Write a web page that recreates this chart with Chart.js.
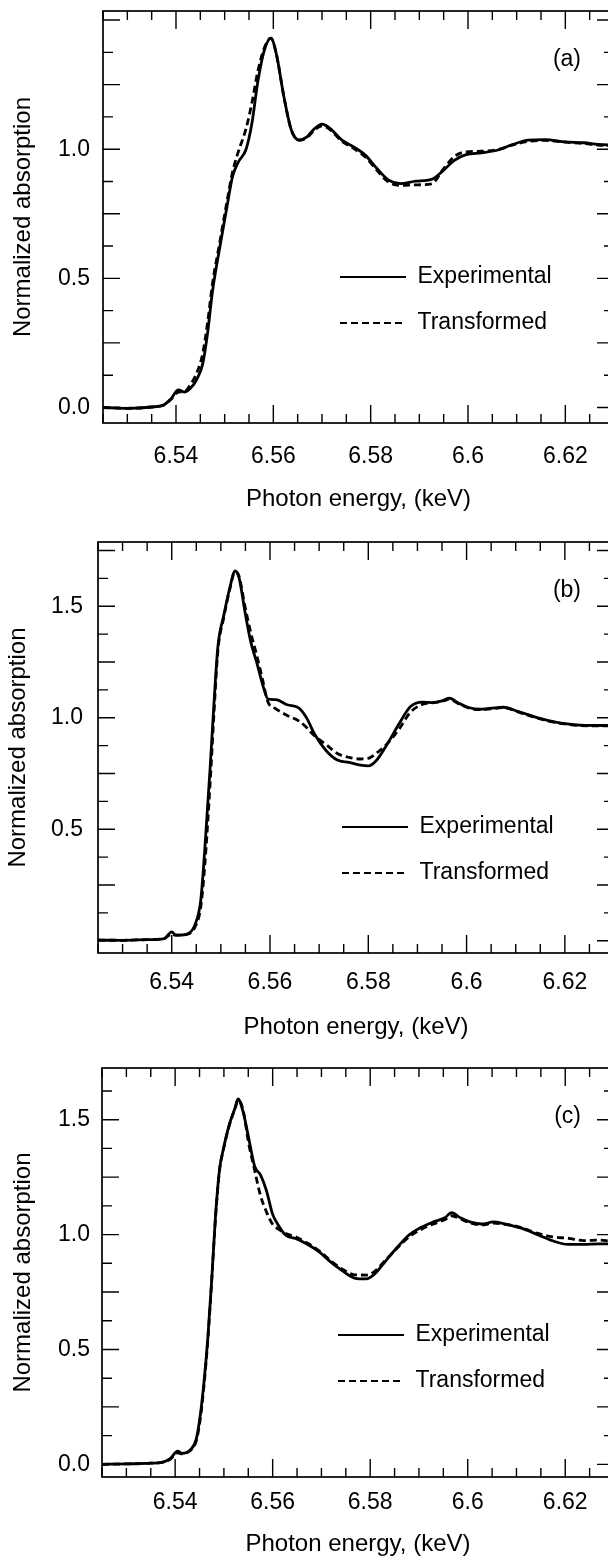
<!DOCTYPE html>
<html>
<head>
<meta charset="utf-8">
<script src="https://cdn.jsdelivr.net/npm/chart.js@4.4.1/dist/chart.umd.min.js"></script>
<style>
  html, body { margin: 0; padding: 0; background: #fff; width: 608px; height: 1564px; overflow: hidden; }
  canvas { position: absolute; left: 0; }
</style>
</head>
<body>
<canvas id="panel-a" width="614" height="514" style="top:0px"></canvas>
<canvas id="panel-b" width="614" height="522" style="top:520px"></canvas>
<canvas id="panel-c" width="614" height="515" style="top:1044px"></canvas>
<script>
// photon energy (keV) and normalized absorption
const energyA = [6.525, 6.530, 6.535, 6.5375, 6.539, 6.5405, 6.5418, 6.543, 6.5443, 6.5455, 6.5465, 6.5475, 6.549, 6.5505, 6.5516, 6.5528, 6.5544, 6.5556, 6.5568, 6.5581, 6.5595, 6.5606, 6.5622, 6.5637, 6.5653, 6.5669, 6.5685, 6.570, 6.5717, 6.5741, 6.5765, 6.5789, 6.5813, 6.5837, 6.5861, 6.5893, 6.5925, 6.595, 6.5972, 6.5996, 6.6028, 6.606, 6.6093, 6.6124, 6.6158, 6.620, 6.6238, 6.6267, 6.630];
const experimentalA = [0.000, -0.003, 0.002, 0.010, 0.035, 0.068, 0.060, 0.075, 0.110, 0.170, 0.290, 0.450, 0.620, 0.780, 0.893, 0.950, 1.000, 1.100, 1.260, 1.380, 1.430, 1.370, 1.200, 1.074, 1.035, 1.048, 1.080, 1.097, 1.080, 1.035, 1.009, 0.977, 0.925, 0.880, 0.867, 0.876, 0.883, 0.919, 0.957, 0.979, 0.986, 0.996, 1.019, 1.035, 1.037, 1.028, 1.025, 1.019, 1.015];
const transformedA = [0.000, -0.003, 0.002, 0.010, 0.032, 0.060, 0.062, 0.090, 0.135, 0.210, 0.330, 0.480, 0.640, 0.800, 0.910, 0.990, 1.080, 1.180, 1.300, 1.390, 1.430, 1.370, 1.200, 1.074, 1.035, 1.045, 1.075, 1.090, 1.075, 1.030, 1.003, 0.970, 0.918, 0.872, 0.860, 0.862, 0.866, 0.925, 0.972, 0.990, 0.992, 0.998, 1.017, 1.030, 1.034, 1.027, 1.022, 1.016, 1.012];

const energyB = [6.525, 6.530, 6.535, 6.5385, 6.540, 6.5408, 6.5431, 6.5447, 6.5459, 6.5467, 6.5478, 6.5486, 6.5494, 6.5506, 6.5518, 6.5529, 6.5537, 6.5549, 6.5561, 6.5573, 6.5584, 6.5596, 6.5612, 6.5635, 6.5659, 6.5675, 6.569, 6.5714, 6.5737, 6.5761, 6.5784, 6.580, 6.5816, 6.5839, 6.5863, 6.5886, 6.591, 6.5933, 6.5953, 6.5965, 6.5984, 6.6004, 6.6027, 6.6051, 6.6075, 6.6106, 6.6137, 6.6169, 6.620, 6.6231, 6.630];
const experimentalB = [0.003, 0.002, 0.005, 0.010, 0.040, 0.025, 0.030, 0.070, 0.180, 0.400, 0.770, 1.065, 1.320, 1.460, 1.580, 1.658, 1.628, 1.476, 1.339, 1.248, 1.157, 1.084, 1.081, 1.058, 1.043, 0.997, 0.929, 0.853, 0.810, 0.800, 0.787, 0.784, 0.807, 0.883, 0.974, 1.050, 1.070, 1.068, 1.078, 1.088, 1.065, 1.046, 1.038, 1.043, 1.047, 1.027, 1.005, 0.986, 0.974, 0.967, 0.965];
const transformedB = [0.003, 0.002, 0.005, 0.010, 0.030, 0.025, 0.028, 0.060, 0.150, 0.330, 0.700, 1.020, 1.300, 1.450, 1.575, 1.655, 1.635, 1.500, 1.380, 1.280, 1.180, 1.070, 1.040, 1.010, 0.985, 0.955, 0.920, 0.880, 0.840, 0.822, 0.815, 0.818, 0.840, 0.885, 0.950, 1.025, 1.060, 1.068, 1.075, 1.083, 1.062, 1.044, 1.036, 1.040, 1.045, 1.025, 1.003, 0.984, 0.972, 0.965, 0.963];

const energyC = [6.525, 6.530, 6.535, 6.5375, 6.539, 6.5405, 6.5414, 6.5431, 6.5443, 6.5451, 6.5459, 6.5467, 6.5475, 6.5483, 6.5491, 6.5499, 6.5511, 6.5523, 6.5529, 6.5539, 6.5551, 6.5563, 6.5575, 6.5587, 6.560, 6.5611, 6.5627, 6.5647, 6.5672, 6.5696, 6.572, 6.5744, 6.5768, 6.5792, 6.5808, 6.5832, 6.5856, 6.588, 6.5904, 6.5928, 6.5953, 6.5967, 6.5985, 6.6006, 6.6029, 6.6053, 6.6077, 6.611, 6.6142, 6.6174, 6.6206, 6.6238, 6.627, 6.630];
const experimentalC = [0.000, 0.002, 0.005, 0.010, 0.025, 0.058, 0.048, 0.063, 0.108, 0.205, 0.355, 0.549, 0.804, 1.088, 1.283, 1.373, 1.478, 1.552, 1.590, 1.537, 1.418, 1.298, 1.260, 1.193, 1.088, 1.043, 0.997, 0.983, 0.957, 0.924, 0.879, 0.841, 0.811, 0.807, 0.826, 0.886, 0.946, 0.999, 1.031, 1.054, 1.073, 1.096, 1.073, 1.054, 1.046, 1.055, 1.046, 1.028, 1.001, 0.973, 0.957, 0.957, 0.960, 0.960];
const transformedC = [0.000, 0.002, 0.005, 0.010, 0.022, 0.050, 0.046, 0.060, 0.100, 0.190, 0.340, 0.540, 0.800, 1.080, 1.280, 1.370, 1.475, 1.550, 1.585, 1.545, 1.395, 1.280, 1.170, 1.100, 1.045, 1.025, 1.005, 0.990, 0.962, 0.928, 0.884, 0.848, 0.825, 0.824, 0.838, 0.890, 0.943, 0.990, 1.022, 1.045, 1.065, 1.082, 1.068, 1.050, 1.042, 1.050, 1.045, 1.030, 1.006, 0.990, 0.984, 0.974, 0.976, 0.969];

const xTickLabels = [6.54, 6.56, 6.58, 6.6, 6.62];
const yTickLabelsA = [0, 0.5, 1.0];
const yTickLabelsB = [0.5, 1.0, 1.5];
const yTickLabelsC = [0, 0.5, 1.0, 1.5];

const FONT = { family: '"Liberation Sans", Arial, sans-serif', size: 23 };
const TITLE_FONT = { family: '"Liberation Sans", Arial, sans-serif', size: 24 };
const X_MINOR = 0.005, Y_MINOR = 0.125;

function toPoints(xs, ys) {
  return xs.map((x, i) => ({ x: x, y: ys[i] }));
}

function hasValue(list, v) {
  return list.some(t => Math.abs(t - v) < 1e-6);
}

// box round the plot, ticks on all four sides, panel tag, legend placement
const framePlugin = {
  id: 'frame',
  afterLayout(chart, args, opts) {
    const lg = chart.legend, ca = chart.chartArea;
    const pad = lg.options.labels.padding;
    lg.left = ca.left + opts.legendX - pad;
    lg.top = ca.top + opts.legendY - pad - FONT.size / 2;
    lg.right = lg.left + 320;
    lg.bottom = lg.top + 200;
  },
  afterDraw(chart, args, opts) {
    const { ctx, chartArea: ca, scales: { x, y } } = chart;
    ctx.save();
    ctx.strokeStyle = '#000';
    ctx.lineWidth = 1.7;
    ctx.strokeRect(ca.left, ca.top, ca.right - ca.left, ca.bottom - ca.top);
    ctx.lineWidth = 1.4;
    ctx.beginPath();
    for (let k = Math.ceil(x.min / X_MINOR - 1e-6); k * X_MINOR <= x.max + 1e-9; k++) {
      const px = x.getPixelForValue(k * X_MINOR);
      const len = k % 4 === 0 ? 18 : 9;
      ctx.moveTo(px, ca.bottom); ctx.lineTo(px, ca.bottom - len);
      ctx.moveTo(px, ca.top); ctx.lineTo(px, ca.top + len);
    }
    for (let k = Math.ceil(y.min / Y_MINOR - 1e-6); k * Y_MINOR <= y.max + 1e-9; k++) {
      const py = y.getPixelForValue(k * Y_MINOR);
      const len = k % 2 === 0 ? 17 : 10;
      ctx.moveTo(ca.left, py); ctx.lineTo(ca.left + len, py);
      ctx.moveTo(ca.right, py); ctx.lineTo(ca.right - len, py);
    }
    ctx.stroke();
    ctx.fillStyle = '#000';
    ctx.font = FONT.size + 'px ' + FONT.family;
    ctx.textAlign = 'right';
    ctx.textBaseline = 'middle';
    ctx.fillText(opts.tag, ca.right - 33, ca.top + 49);
    ctx.restore();
  }
};

function noAxisPadding(s) {
  s.paddingTop = 0;
  s.paddingBottom = 0;
  s.paddingLeft = 0;
  s.paddingRight = 0;
}

function makePanel(id, p) {
  return new Chart(document.getElementById(id), {
    type: 'line',
    data: {
      datasets: [
        {
          label: 'Experimental',
          data: toPoints(p.energy, p.experimental),
          borderColor: '#000',
          borderWidth: 2.8,
          pointRadius: 0,
          fill: false,
          cubicInterpolationMode: 'monotone'
        },
        {
          label: 'Transformed',
          data: toPoints(p.energy, p.transformed),
          borderColor: '#000',
          borderWidth: 2.8,
          borderDash: [7, 4],
          pointRadius: 0,
          fill: false,
          cubicInterpolationMode: 'monotone'
        }
      ]
    },
    options: {
      responsive: false,
      animation: false,
      events: [],
      layout: { padding: { left: p.padLeft, top: p.padTop, right: 0, bottom: 0 } },
      scales: {
        x: {
          type: 'linear',
          min: 6.525,
          max: 6.63,
          border: { display: false },
          grid: { display: false, drawTicks: false },
          ticks: {
            stepSize: 0.02,
            includeBounds: false,
            maxRotation: 0,
            autoSkip: false,
            padding: p.xTickPad,
            color: '#000',
            font: FONT,
            callback: v => String(+v.toFixed(2))
          },
          afterBuildTicks: s => { s.ticks = s.ticks.filter(t => hasValue(xTickLabels, t.value)); },
          title: { display: true, text: 'Photon energy, (keV)', color: '#000', font: TITLE_FONT, padding: 0 },
          afterFit: s => { s.height = p.xAxisHeight; noAxisPadding(s); }
        },
        y: {
          min: p.yMin,
          max: p.yMax,
          border: { display: false },
          grid: { display: false, drawTicks: false },
          ticks: {
            stepSize: 0.5,
            includeBounds: false,
            padding: p.yTickPad,
            color: '#000',
            font: FONT,
            callback: v => v.toFixed(1)
          },
          afterBuildTicks: s => { s.ticks = s.ticks.filter(t => hasValue(p.yLabels, t.value)); },
          title: { display: true, text: 'Normalized absorption', color: '#000', font: TITLE_FONT, padding: 0 },
          afterFit: s => { s.width = p.yAxisWidth; noAxisPadding(s); }
        }
      },
      plugins: {
        legend: {
          position: 'chartArea',
          align: 'start',
          labels: {
            usePointStyle: true,
            pointStyle: 'line',
            pointStyleWidth: 66,
            padding: 23,
            color: '#000',
            font: FONT,
            generateLabels(chart) {
              const items = Chart.defaults.plugins.legend.labels.generateLabels(chart);
              items.forEach(it => {
                const ds = chart.data.datasets[it.datasetIndex];
                it.lineDash = ds.borderDash || [];
                it.lineWidth = 2.2;
                it.strokeStyle = '#000';
              });
              return items;
            }
          }
        },
        tooltip: { enabled: false },
        frame: { tag: p.tag, legendX: p.legendX, legendY: p.legendY }
      }
    },
    plugins: [framePlugin]
  });
}

makePanel('panel-a', {
  energy: energyA, experimental: experimentalA, transformed: transformedA,
  yMin: -0.06, yMax: 1.535, yLabels: yTickLabelsA, tag: '(a)',
  padLeft: 9, padTop: 11, yAxisWidth: 94, xAxisHeight: 91,
  xTickPad: 20, yTickPad: 13, legendX: 237, legendY: 266
});

makePanel('panel-b', {
  energy: energyB, experimental: experimentalB, transformed: transformedB,
  yMin: -0.055, yMax: 1.788, yLabels: yTickLabelsB, tag: '(b)',
  padLeft: 4, padTop: 22, yAxisWidth: 94, xAxisHeight: 89,
  xTickPad: 16, yTickPad: 15, legendX: 244, legendY: 285
});

makePanel('panel-c', {
  energy: energyC, experimental: experimentalC, transformed: transformedC,
  yMin: -0.055, yMax: 1.725, yLabels: yTickLabelsC, tag: '(c)',
  padLeft: 9, padTop: 24, yAxisWidth: 93, xAxisHeight: 82,
  xTickPad: 12, yTickPad: 12, legendX: 236, legendY: 267
});
</script>
</body>
</html>
